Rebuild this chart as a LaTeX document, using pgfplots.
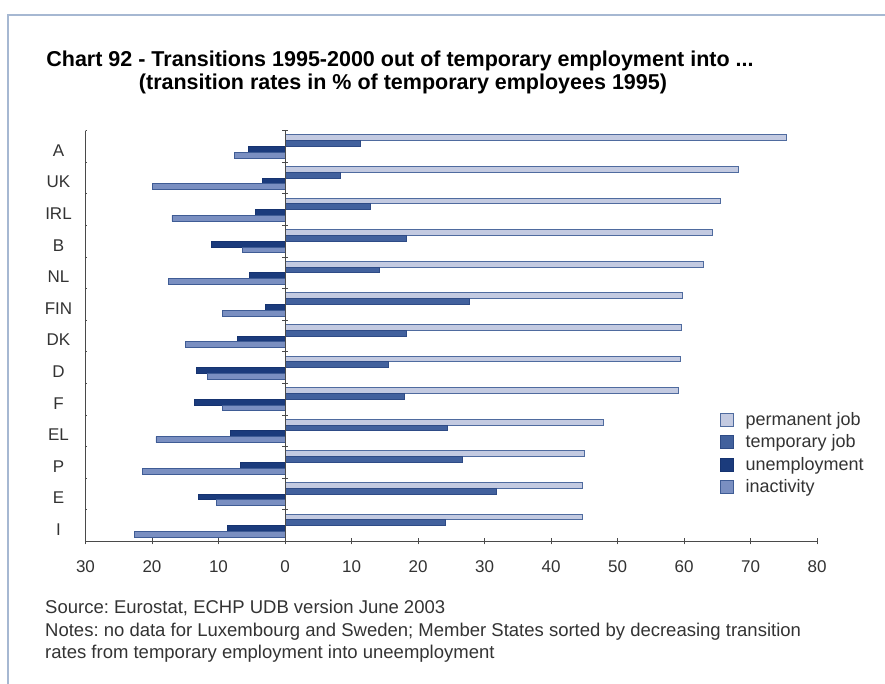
\documentclass[border=0pt]{standalone}
\usepackage{pgfplots}
\pgfplotsset{compat=1.18}
\usepackage{pgfplotstable}
\usepackage{fontspec}
\setmainfont{Liberation Sans}
\frenchspacing
\definecolor{permfill}{HTML}{C3CAE1}
\definecolor{permdraw}{HTML}{4F6B9F}
\definecolor{tempfill}{HTML}{42619D}
\definecolor{tempdraw}{HTML}{2E4B86}
\definecolor{unempfill}{HTML}{1B3B7C}
\definecolor{unempdraw}{HTML}{163370}
\definecolor{inactfill}{HTML}{7A8FC1}
\definecolor{inactdraw}{HTML}{3F5C95}
\definecolor{axiscol}{HTML}{4A4A4A}
\definecolor{textcol}{HTML}{333333}
\definecolor{framecol}{HTML}{A6B8D2}

\pgfplotstableread{
y perm temp unemp inact
12 75.4 11.4 -5.5 -7.6
11 68.2 8.4 -3.4 -20.0
10 65.5 12.9 -4.5 -17.0
9 64.3 18.2 -11.1 -6.35
8 62.9 14.2 -5.35 -17.5
7 59.8 27.8 -2.9 -9.35
6 59.6 18.2 -7.1 -15.0
5 59.4 15.5 -13.35 -11.65
4 59.1 17.9 -13.65 -9.4
3 47.9 24.5 -8.2 -19.4
2 45.0 26.7 -6.75 -21.4
1 44.8 31.8 -13.05 -10.35
0 44.7 24.1 -8.65 -22.65
}\data

\begin{document}
\begin{tikzpicture}
\useasboundingbox (0pt,0pt) rectangle (885pt,684pt);
\fill[white] (0pt,0pt) rectangle (885pt,684pt);
\draw[framecol, line width=1.5pt] (8pt,0pt) -- (8pt,669pt) -- (885pt,669pt);
\node[anchor=base, font=\bfseries\fontsize{21.5}{25}\selectfont] at (400pt,617.3pt) {Chart 92 - Transitions 1995-2000 out of temporary employment into ...};
\node[anchor=base, font=\bfseries\fontsize{21.5}{25}\selectfont] at (403pt,594pt) {(transition rates in \% of temporary employees 1995)};
\node[anchor=base west, font=\fontsize{18.5}{22}\selectfont, text=textcol, inner sep=0pt] at (45pt,70pt) {Source: Eurostat, ECHP UDB version June 2003};
\node[anchor=base west, font=\fontsize{18.5}{22}\selectfont, text=textcol, inner sep=0pt] at (45pt,47pt) {Notes: no data for Luxembourg and Sweden; Member States sorted by decreasing transition};
\node[anchor=base west, font=\fontsize{18.5}{22}\selectfont, text=textcol, inner sep=0pt] at (45pt,25pt) {rates from temporary employment into uneemployment};
\begin{axis}[
  at={(85.5pt,142.5pt)}, anchor=south west,
  scale only axis, width=731.5pt, height=410.8pt,
  xmin=-30, xmax=80, ymin=-0.5, ymax=12.5,
  axis x line*=bottom, axis y line*=left,
  axis line style={axiscol, line width=0.8pt},
  xtick={-30,-20,-10,0,10,20,30,40,50,60,70,80},
  xticklabels={30,20,10,0,10,20,30,40,50,60,70,80},
  ytick={0,1,2,3,4,5,6,7,8,9,10,11,12},
  yticklabels={I,E,P,EL,F,D,DK,FIN,NL,B,IRL,UK,A},
  ytick style={draw=none},
  tick align=center, major tick length=6pt,
  xtick style={axiscol, line width=0.8pt},
  /pgf/number format/assume math mode=true,
  tick label style={font=\fontsize{17}{20}\selectfont, text=textcol},
  x tick label style={yshift=-13pt},
  y tick label style={anchor=center, xshift=-24pt, yshift=-4pt},
  legend style={at={(0.8674,0.320)}, anchor=north west, draw=none, fill=none,
     font=\fontsize{18}{21}\selectfont, text=textcol, row sep=4pt, inner sep=0pt},
  legend cell align=left,
  legend image code/.code={\draw[#1] (0pt,-6.5pt) rectangle (13pt,6.5pt); \path[draw=none, fill=none] (0pt,0pt) -- (23pt,0pt);},
]
\addplot[xbar, bar width=5.8pt, bar shift=8.7pt, fill=permfill, draw=permdraw, line width=0.9pt] table[x=perm, y=y] {\data};
\addplot[xbar, bar width=5.8pt, bar shift=2.9pt, fill=tempfill, draw=tempdraw, line width=0.9pt] table[x=temp, y=y] {\data};
\addplot[xbar, bar width=5.8pt, bar shift=-2.9pt, fill=unempfill, draw=unempdraw, line width=0.9pt] table[x=unemp, y=y] {\data};
\addplot[xbar, bar width=5.8pt, bar shift=-8.7pt, fill=inactfill, draw=inactdraw, line width=0.9pt] table[x=inact, y=y] {\data};
\legend{permanent job, temporary job, unemployment, inactivity}
\draw[axiscol, line width=0.8pt] (axis cs:0,-0.5) -- (axis cs:0,12.5);
\pgfplotsinvokeforeach{-0.5,0.5,1.5,2.5,3.5,4.5,5.5,6.5,7.5,8.5,9.5,10.5,11.5,12.5}{
  \draw[axiscol, line width=0.8pt] ([xshift=-3pt]axis cs:0,#1) -- ([xshift=3pt]axis cs:0,#1);
  \draw[axiscol, line width=0.8pt] ([xshift=-5pt]axis cs:-30,#1) -- ([xshift=1pt]axis cs:-30,#1);
}
\end{axis}
\end{tikzpicture}
\end{document}
